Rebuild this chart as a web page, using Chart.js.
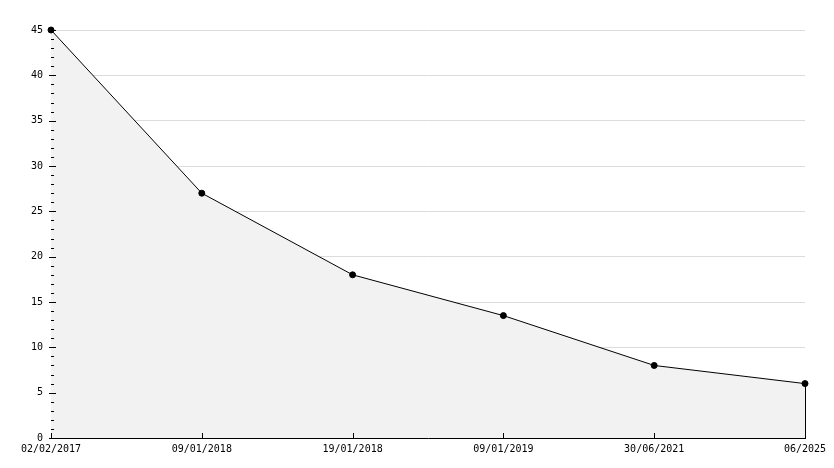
<!DOCTYPE html>
<html>
<head>
<meta charset="utf-8">
<script src="https://cdn.jsdelivr.net/npm/chart.js@4/dist/chart.umd.min.js"></script>
<style>
  html, body { margin: 0; padding: 0; background: #fff; }
  #wrap { width: 834px; height: 468px; }
</style>
</head>
<body>
<div id="wrap"><canvas id="myChart" width="834" height="468"></canvas></div>
<script>
"use strict"

// data
const dates = ["02/02/2017", "09/01/2018", "19/01/2018", "09/01/2019", "30/06/2021", "06/2025"];
const values = [45, 27, 18, 13.5, 8, 6];
const yMin = 0;
const yMax = 45;
const yMajorStep = 5;
const yMinorStep = 1;

// small ticks drawn inside the plot, plus the closing edge of the filled area
const axisTicks = {
    id: "axisTicks",
    afterDraw(chart){
        const ctx = chart.ctx;
        const x = chart.scales.x;
        const y = chart.scales.y;
        const area = chart.chartArea;
        ctx.save();
        ctx.strokeStyle = "#000";
        ctx.lineWidth = 1;
        ctx.beginPath();
        for(let v = yMin; v <= yMax; v += yMinorStep){
            const py = Math.round(y.getPixelForValue(v)) + 0.5;
            const major = v % yMajorStep === 0;
            ctx.moveTo(area.left - (major ? 2 : 0), py);
            ctx.lineTo(area.left + (major ? 5 : 3), py);
        }
        dates.forEach((d, i) => {
            const px = Math.round(x.getPixelForValue(i)) + 0.5;
            ctx.moveTo(px, area.bottom);
            ctx.lineTo(px, area.bottom - 5);
        });
        const last = values.length - 1;
        const lx = Math.round(x.getPixelForValue(last)) + 0.5;
        ctx.moveTo(lx, y.getPixelForValue(values[last]));
        ctx.lineTo(lx, area.bottom);
        ctx.stroke();
        ctx.restore();
    }
};

Chart.defaults.font.family = "'DejaVu Sans Mono', monospace";
Chart.defaults.font.size = 10;
Chart.defaults.color = "#000";

const ctx = document.getElementById("myChart").getContext("2d");
const myChart = new Chart(ctx, {
    type: "line",
    data: {
        labels: dates,
        datasets: [{
            data: values,
            borderColor: "#000",
            borderWidth: 1,
            backgroundColor: "#f2f2f2",
            fill: "origin",
            tension: 0,
            pointStyle: "circle",
            pointRadius: 3,
            pointBackgroundColor: "#000",
            pointBorderColor: "#000",
            pointBorderWidth: 1,
            clip: false
        }]
    },
    options: {
        responsive: false,
        animation: false,
        events: [],
        layout: { padding: { top: 30, right: 29, left: 0, bottom: 0 } },
        plugins: {
            legend: { display: false },
            tooltip: { enabled: false }
        },
        scales: {
            x: {
                type: "category",
                offset: false,
                grid: { display: false, drawTicks: false },
                border: { display: true, color: "#000", width: 1 },
                ticks: { autoSkip: false, maxRotation: 0, padding: 5 },
                afterFit(scale){ scale.height = 30; }
            },
            y: {
                min: yMin,
                max: yMax,
                grid: { color: "#dcdcdc", drawTicks: false },
                border: { display: true, color: "#000", width: 1 },
                ticks: { stepSize: yMajorStep, padding: 8 },
                afterFit(scale){ scale.width = 51; }
            }
        }
    },
    plugins: [axisTicks]
});
</script>
</body>
</html>
